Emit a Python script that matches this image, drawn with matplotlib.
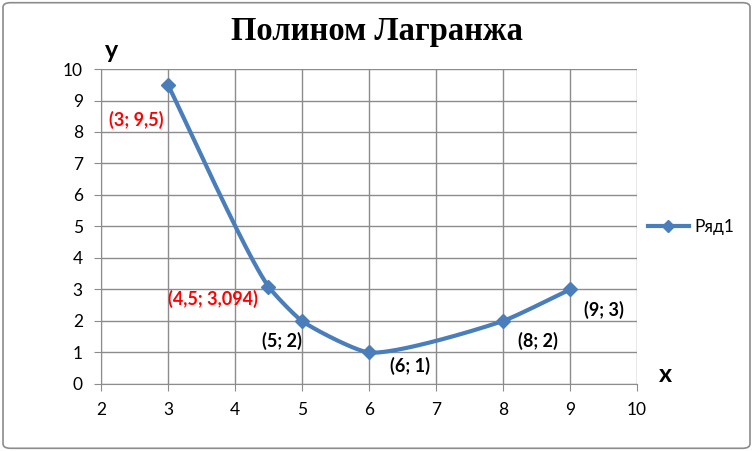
import numpy as np
import matplotlib.pyplot as plt
from matplotlib.patches import FancyBboxPatch

# points of the Lagrange polynomial
x_vals = [3, 4.5, 5, 6, 8, 9]
y_vals = [9.5, 3.094, 2, 1, 2, 3]
labels = ["(3; 9,5)", "(4,5; 3,094)", "(5; 2)", "(6; 1)", "(8; 2)", "(9; 3)"]
label_colors = ["red", "red", "black", "black", "black", "black"]
x_ticks = [2, 3, 4, 5, 6, 7, 8, 9, 10]
y_ticks = [0, 1, 2, 3, 4, 5, 6, 7, 8, 9, 10]

# label offsets in pixels
offsets = [(-32, -35), (-56, -12), (-20, -20), (41, -13), (35, -20), (34, -20)]

blue = "#4A7EBB"

fig = plt.figure(figsize=(7.53, 4.51), dpi=100)
ax = fig.add_axes([0.134, 0.1486, 0.712, 0.6984])
ax.set_xlim(2, 10)
ax.set_ylim(0, 10)


def smooth(xs, ys, k=0.18, n=50):
    # smoothing in pixel space, tangents from neighbours, handles scaled by segment length
    P = ax.transData.transform(np.column_stack([xs, ys]))
    m = len(P)
    tang = []
    for i in range(m):
        if i == 0:
            d = P[1] - P[0]
        elif i == m - 1:
            d = P[-1] - P[-2]
        else:
            a = P[i] - P[i - 1]
            b = P[i + 1] - P[i]
            d = a / np.linalg.norm(a) + b / np.linalg.norm(b)
        tang.append(d / np.linalg.norm(d))
    t = np.linspace(0, 1, n)[:, None]
    out = []
    for i in range(m - 1):
        L = np.linalg.norm(P[i + 1] - P[i])
        p0, p3 = P[i], P[i + 1]
        p1 = p0 + tang[i] * L * k
        p2 = p3 - tang[i + 1] * L * k
        b = (1 - t) ** 3 * p0 + 3 * (1 - t) ** 2 * t * p1 + 3 * (1 - t) * t ** 2 * p2 + t ** 3 * p3
        out.append(b)
    out = ax.transData.inverted().transform(np.vstack(out))
    return out[:, 0], out[:, 1]


sx, sy = smooth(x_vals, y_vals)
ax.plot(sx, sy, color=blue, lw=3, solid_capstyle="round", zorder=3)
ax.plot(x_vals, y_vals, ls="none", marker="D", ms=7, color=blue, zorder=4)
# legend handle
ax.plot([], [], color=blue, lw=3, marker="D", ms=6, label="Ряд1")

for x, y, lab, c, off in zip(x_vals, y_vals, labels, label_colors, offsets):
    ax.annotate(lab, (x, y), xytext=off, textcoords="offset pixels",
                ha="center", va="center", color=c, fontsize=13,
                family="Lato", fontweight="bold")

ax.set_xticks(x_ticks)
ax.set_yticks(y_ticks)
ax.grid(True, color="#8c8c8c", lw=1)
ax.set_axisbelow(True)
for s in ax.spines.values():
    s.set_visible(False)
ax.spines["left"].set_visible(True)
ax.spines["bottom"].set_visible(True)
ax.spines["left"].set_color("#8c8c8c")
ax.spines["bottom"].set_color("#8c8c8c")
ax.tick_params(length=5, color="#8c8c8c", labelsize=12.5, pad=8)
for t in ax.get_xticklabels() + ax.get_yticklabels():
    t.set_family("Lato")

fig.text(0.5, 0.93, "Полином Лагранжа", ha="center", va="center",
         fontsize=23.5, fontweight="bold", family="Liberation Serif")
fig.text(112 / 753, 1 - 50 / 451, "y", ha="center", va="center",
         fontsize=18, fontweight="bold", family="Lato")
fig.text(665 / 753, 1 - 375 / 451, "x", ha="center", va="center",
         fontsize=18, fontweight="bold", family="Lato")

fig.legend(loc="center left", bbox_to_anchor=(632 / 753, 1 - 227 / 451),
           frameon=False, prop={"family": "Lato", "size": 12.5},
           handlelength=2.4, handletextpad=0.3)

frame = FancyBboxPatch((0.004, 0.006), 0.992, 0.988, boxstyle="round,pad=0,rounding_size=0.01",
                       transform=fig.transFigure, fill=False, ec="#8c8c8c", lw=1.2)
fig.patches.append(frame)

fig.savefig("out.png", dpi=100)
